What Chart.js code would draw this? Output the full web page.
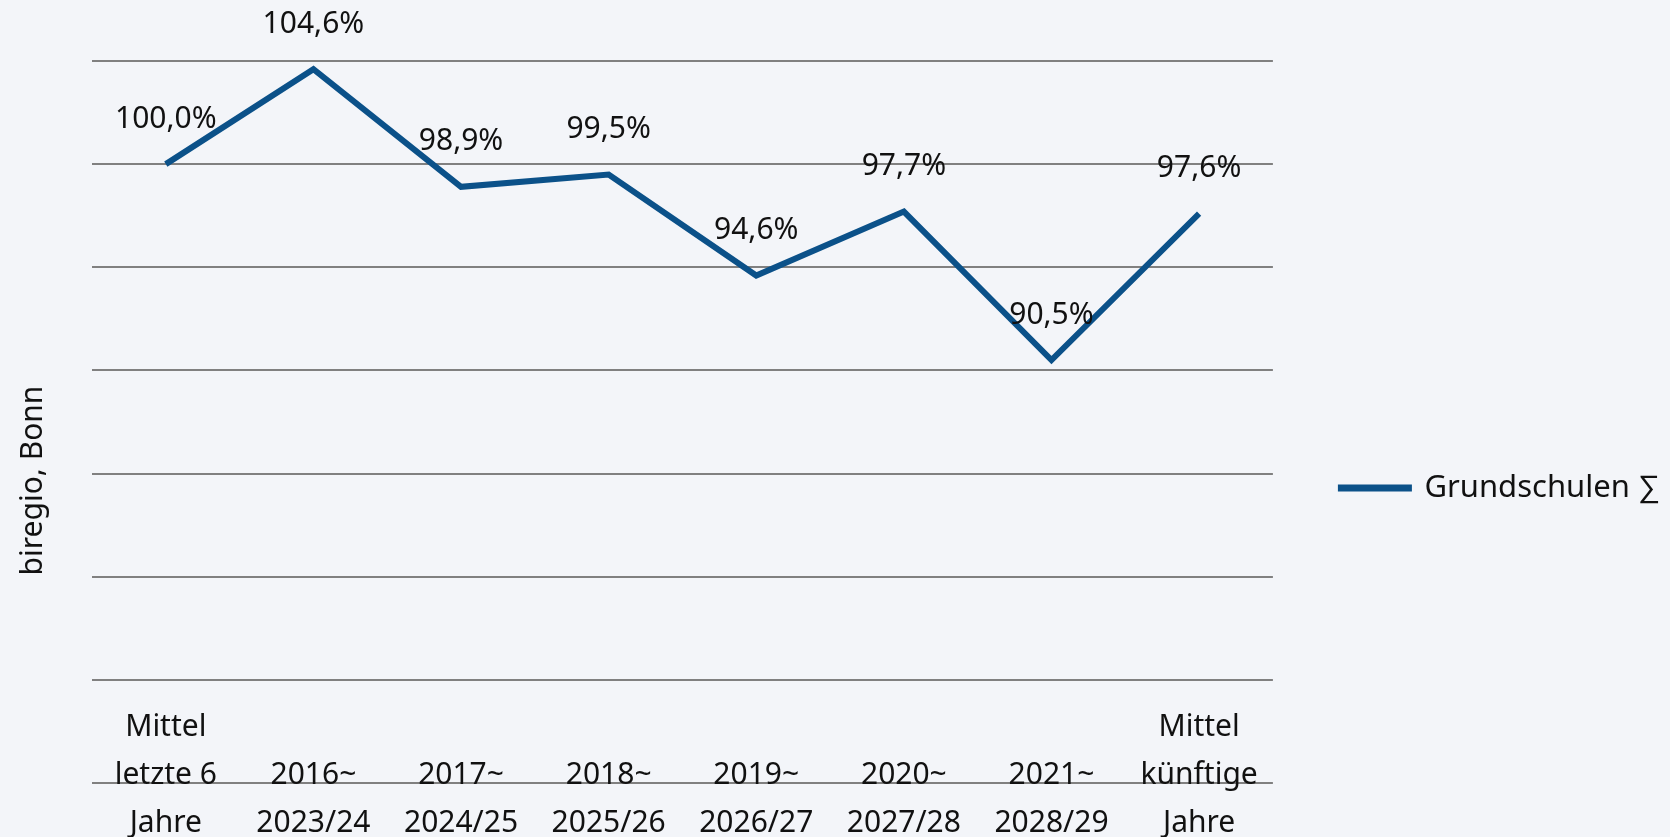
<!DOCTYPE html>
<html>
<head>
<meta charset="utf-8">
<script src="https://cdn.jsdelivr.net/npm/chart.js@4.4.1/dist/chart.umd.min.js"></script>
<style>
  html, body { margin: 0; padding: 0; background: #f3f5f9; }
  #wrap { width: 1670px; height: 837px; }
</style>
</head>
<body>
<div id="wrap"><canvas id="myChart" width="1670" height="837"></canvas></div>
<script>
// chart data
const categories = [
  ['Mittel', 'letzte 6', 'Jahre'],
  ['', '2016~', '2023/24'],
  ['', '2017~', '2024/25'],
  ['', '2018~', '2025/26'],
  ['', '2019~', '2026/27'],
  ['', '2020~', '2027/28'],
  ['', '2021~', '2028/29'],
  ['Mittel', 'künftige', 'Jahre']
];
const seriesName = 'Grundschulen \u2211';
const values = [100.0, 104.6, 98.9, 99.5, 94.6, 97.7, 90.5, 97.6];
const yTicks = [70, 75, 80, 85, 90, 95, 100, 105];
const axisTitle = 'biregio, Bonn';

const blue = '#0b5189';
const textColor = '#111111';

Chart.defaults.font.family = '"Noto Sans", sans-serif';
Chart.defaults.font.size = 30;
Chart.defaults.color = textColor;

const fmt = (v) => v.toFixed(1).replace('.', ',') + '%';

// draws the percentage above every point
const valueLabels = {
  id: 'valueLabels',
  afterDatasetsDraw(chart) {
    const ctx = chart.ctx;
    const meta = chart.getDatasetMeta(0);
    ctx.save();
    ctx.font = '30px "Noto Sans", sans-serif';
    ctx.fillStyle = textColor;
    ctx.textAlign = 'center';
    ctx.textBaseline = 'middle';
    meta.data.forEach((pt, i) => {
      ctx.fillText(fmt(values[i]), pt.x, pt.y - 45);
    });
    ctx.restore();
  }
};

const ctx = document.getElementById('myChart').getContext('2d');
const chart = new Chart(ctx, {
  type: 'line',
  data: {
    labels: categories,
    datasets: [{
      label: seriesName,
      data: values,
      borderColor: blue,
      backgroundColor: blue,
      borderWidth: 6,
      pointRadius: 0,
      tension: 0
    }]
  },
  options: {
    responsive: false,
    animation: false,
    layout: {
      padding: { top: 61, left: 11, right: 0, bottom: 0 }
    },
    scales: {
      x: {
        offset: true,
        grid: { display: false },
        border: { display: false },
        // labels sit partly above the bottom grid line, like in the original
        afterFit: (scale) => { scale.height = 54; },
        ticks: {
          autoSkip: false,
          maxRotation: 0,
          mirror: true,
          padding: 32,
          color: textColor,
          font: { size: 30, lineHeight: 1.6 }
        }
      },
      y: {
        min: yTicks[0],
        max: yTicks[yTicks.length - 1],
        afterBuildTicks: (axis) => {
          axis.ticks = yTicks.map(v => ({ value: v }));
        },
        grid: { color: '#808080', lineWidth: 2, drawTicks: false },
        border: { display: false },
        ticks: { display: false },
        title: {
          display: true,
          text: axisTitle + '               ',
          color: textColor,
          font: { size: 30 },
          padding: { top: 4, bottom: 41 }
        }
      }
    },
    plugins: {
      legend: {
        position: 'right',
        title: {
          display: true,
          text: '',
          padding: { top: 0, bottom: 42 }
        },
        labels: {
          boxWidth: 68,
          boxHeight: 1,
          padding: 68,
          color: textColor,
          font: { size: 31 }
        }
      },
      tooltip: { enabled: false }
    }
  },
  plugins: [valueLabels]
});
</script>
</body>
</html>
